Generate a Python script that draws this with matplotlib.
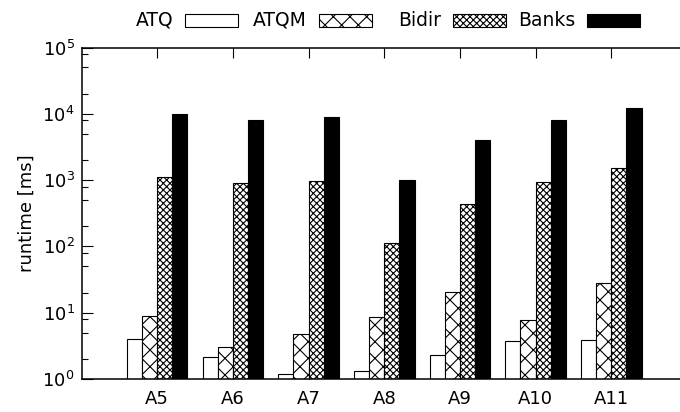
import numpy as np
import matplotlib
matplotlib.use("Agg")
import matplotlib.pyplot as plt
from matplotlib.patches import Rectangle
from matplotlib.ticker import LogLocator

# runtimes per query (ms)
categories = ["A5", "A6", "A7", "A8", "A9", "A10", "A11"]
atq = [4.05, 2.17, 1.19, 1.33, 2.3, 3.7, 3.84]
atqm = [8.9, 3.0, 4.77, 8.5, 20.7, 7.8, 27.7]
bidir = [1100, 900, 980, 113, 430, 940, 1520]
banks = [10000, 8000, 9000, 1000, 4000, 8000, 12200]
series_names = ["ATQ", "ATQM", "Bidir", "Banks"]

plt.rcParams["font.family"] = "DejaVu Sans"
plt.rcParams["font.size"] = 13
plt.rcParams["hatch.linewidth"] = 0.8

W, H = 680, 412
fig = plt.figure(figsize=(W / 100, H / 100), dpi=100)
ax = fig.add_axes([81.5 / W, 1 - 379 / H, (687 - 81.5) / W, (379 - 47.5) / H])

styles = [
    dict(facecolor="white", hatch=None),
    dict(facecolor="white", hatch="xx"),
    dict(facecolor="white", hatch="xxxxx"),
    dict(facecolor="black", hatch=None),
]

x = np.arange(len(categories))
width = 0.2
for i, vals in enumerate([atq, atqm, bidir, banks]):
    ax.bar(x + (i - 1.5) * width, vals, width=width, edgecolor="black",
           linewidth=0.8, **styles[i])

ax.set_yscale("log")
ax.set_ylim(1, 1e5)
ax.set_xlim(-1, 7)
ax.set_xticks(x)
ax.set_xticklabels(categories)
ax.yaxis.set_major_locator(LogLocator(base=10, numticks=10))
ax.yaxis.set_minor_locator(LogLocator(base=10, subs=[2, 5, 8], numticks=10))
ax.tick_params(axis="x", direction="in", top=True, bottom=True, length=7,
               width=0.8, pad=8, labelsize=13)
ax.tick_params(axis="y", which="major", direction="in", length=8, width=0.8,
               pad=5, labelsize=13)
ax.tick_params(axis="y", which="minor", direction="in", length=4, width=0.8)
ax.spines["right"].set_visible(False)
for s in ["left", "top", "bottom"]:
    ax.spines[s].set_linewidth(1.1)
ax.set_ylabel("runtime [ms]", fontsize=13, labelpad=5)

# key across the top: label right-justified before its sample box
yc = 20
for i, name in enumerate(series_names):
    bx = 185 + 134 * i
    fig.text((bx - 12) / W, 1 - yc / H, name, ha="right", va="center", fontsize=13.5)
    fig.add_artist(Rectangle((bx / W, 1 - (yc + 6.5) / H), 53 / W, 13 / H,
                             transform=fig.transFigure, edgecolor="black",
                             linewidth=0.8, **styles[i]))

fig.savefig("out.png", dpi=100)
